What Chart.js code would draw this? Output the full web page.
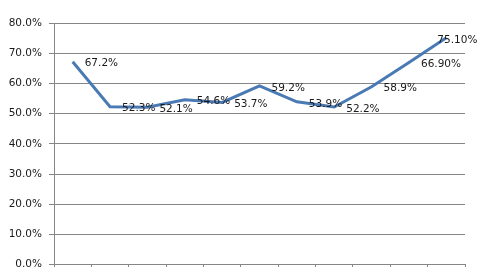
<!DOCTYPE html>
<html>
<head>
<meta charset="utf-8">
<script src="https://cdn.jsdelivr.net/npm/chart.js@4"></script>
<style>
  html, body { margin: 0; padding: 0; background: #fff; overflow: hidden; }
  #wrap { width: 480px; height: 278px; }
</style>
</head>
<body>
<div id="wrap"><canvas id="Chart"></canvas></div>
<script>
// data
var categories = ['', '', '', '', '', '', '', '', '', '', ''];
var rateValues = [67.2, 52.3, 52.1, 54.6, 53.7, 59.2, 53.9, 52.2, 58.9, 66.9, 75.1];
var rateLabels = ['67.2%', '52.3%', '52.1%', '54.6%', '53.7%', '59.2%', '53.9%', '52.2%', '58.9%', '66.90%', '75.10%'];
var yTicks = [0, 10, 20, 30, 40, 50, 60, 70, 80];

var fontFamily = '"DejaVu Sans", Verdana, sans-serif';
var labelFont = '10.5px ' + fontFamily;

// draws the value next to each point, like excel's "right" label position
var pointLabels = {
    id: 'pointLabels',
    afterDatasetsDraw: function(chart) {
        var ctx = chart.ctx;
        var meta = chart.getDatasetMeta(0);
        ctx.save();
        ctx.font = labelFont;
        ctx.fillStyle = '#1a1a1a';
        ctx.textBaseline = 'middle';
        ctx.textAlign = 'left';
        meta.data.forEach(function(pt, i) {
            var dx = 12;
            if (i == meta.data.length - 1) dx = -9; // last one sits on the line end
            ctx.fillText(rateLabels[i], pt.x + dx, pt.y + 2);
        });
        ctx.restore();
    }
};

new Chart('Chart', {
    type: 'line',
    data: {
        labels: categories,
        datasets: [{
            data: rateValues,
            borderColor: '#4a7ab4',
            borderWidth: 3,
            pointRadius: 0,
            tension: 0,
            fill: false
        }]
    },
    options: {
        responsive: true,
        maintainAspectRatio: false,
        animation: false,
        layout: { padding: { left: 7, right: 15, top: 23, bottom: 0 } },
        plugins: {
            legend: { display: false },
            tooltip: { enabled: false }
        },
        scales: {
            x: {
                offset: true,
                grid: {
                    offset: true,
                    drawOnChartArea: false,
                    color: '#868686',
                    tickLength: 5
                },
                border: { color: '#868686', width: 1 },
                ticks: { display: false }
            },
            y: {
                min: 0,
                max: 80,
                afterBuildTicks: function(axis) {
                    axis.ticks = yTicks.map(function(v) { return { value: v }; });
                },
                afterFit: function(axis) {
                    axis.width = 47;
                },
                grid: {
                    color: '#868686',
                    tickLength: 5
                },
                border: { color: '#868686', width: 1 },
                ticks: {
                    padding: 7,
                    color: '#1a1a1a',
                    font: { family: fontFamily, size: 10.5 },
                    callback: function(v) { return v.toFixed(1) + '%'; }
                }
            }
        }
    },
    plugins: [pointLabels]
});
</script>
</body>
</html>
